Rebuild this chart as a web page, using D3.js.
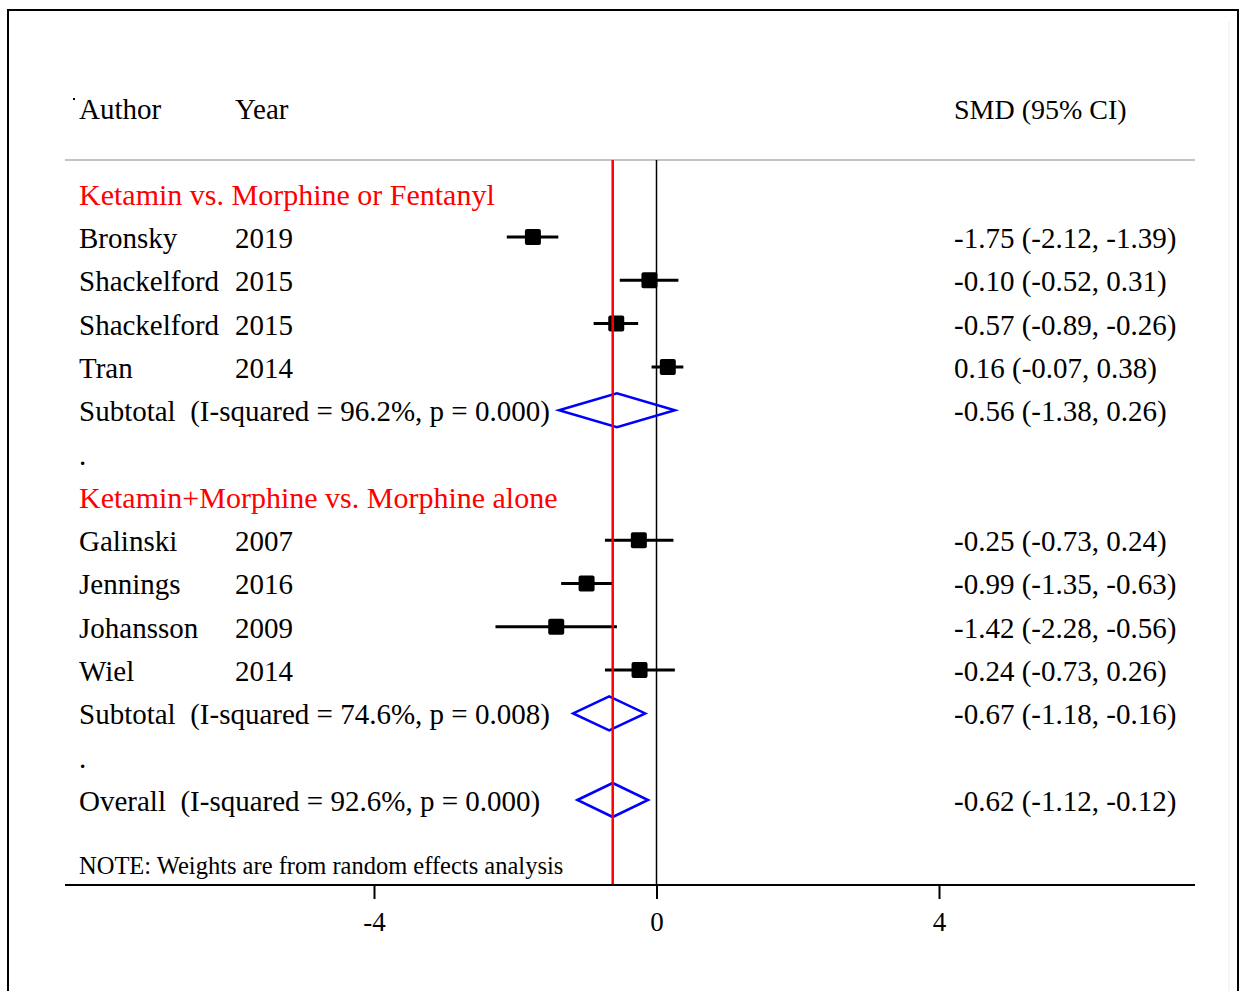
<!DOCTYPE html>
<html>
<head>
<meta charset="utf-8">
<script src="https://cdn.jsdelivr.net/npm/d3@7"></script>
<style>
  html, body { margin: 0; padding: 0; background: #fff; }
  svg text { font-family: "Liberation Serif", "DejaVu Serif", serif; white-space: pre; }
</style>
</head>
<body>
<svg id="chart" width="1240" height="991"></svg>
<script>
// ---- data ----
const groups = ["Ketamin vs. Morphine or Fentanyl", "Ketamin+Morphine vs. Morphine alone"];
const studyGroup = [0, 0, 0, 0, 1, 1, 1, 1];
const authors = ["Bronsky", "Shackelford", "Shackelford", "Tran", "Galinski", "Jennings", "Johansson", "Wiel"];
const years = ["2019", "2015", "2015", "2014", "2007", "2016", "2009", "2014"];
const smd = [-1.75, -0.10, -0.57, 0.16, -0.25, -0.99, -1.42, -0.24];
const lower = [-2.12, -0.52, -0.89, -0.07, -0.73, -1.35, -2.28, -0.73];
const upper = [-1.39, 0.31, -0.26, 0.38, 0.24, -0.63, -0.56, 0.26];
const ciText = ["-1.75 (-2.12, -1.39)", "-0.10 (-0.52, 0.31)", "-0.57 (-0.89, -0.26)", "0.16 (-0.07, 0.38)",
                "-0.25 (-0.73, 0.24)", "-0.99 (-1.35, -0.63)", "-1.42 (-2.28, -0.56)", "-0.24 (-0.73, 0.26)"];
const pooledLabels = ["Subtotal  (I-squared = 96.2%, p = 0.000)", "Subtotal  (I-squared = 74.6%, p = 0.008)", "Overall  (I-squared = 92.6%, p = 0.000)"];
const pooledEst = [-0.56, -0.67, -0.62];
const pooledLo = [-1.38, -1.18, -1.12];
const pooledHi = [0.26, -0.16, -0.12];
const pooledText = ["-0.56 (-1.38, 0.26)", "-0.67 (-1.18, -0.16)", "-0.62 (-1.12, -0.12)"];
const xTicks = [-4, 0, 4];
const headers = ["Author", "Year", "SMD (95% CI)"];
const note = "NOTE: Weights are from random effects analysis";

// ---- row layout (row index per line) ----
const rows = [];
let r = -1;
groups.forEach((g, gi) => {
  rows.push({type: "group", label: g, row: r++});
  authors.forEach((a, i) => {
    if (studyGroup[i] === gi) rows.push({type: "study", i, row: r++});
  });
  rows.push({type: "pooled", i: gi, row: r++});
  rows.push({type: "dot", row: r++});
});
rows.push({type: "pooled", i: 2, row: r++});

const svg = d3.select("#chart");
const x = d3.scaleLinear().domain([-4, 4]).range([374, 939]);
const y = d3.scaleLinear().domain([0, 13]).range([237, 800]);
const colAuthor = 79, colYear = 235, colCI = 954;
const fs = 29;

// outer frame
svg.append("rect").attr("x", 8).attr("y", 10).attr("width", 1230).attr("height", 1000)
  .attr("fill", "none").attr("stroke", "#000").attr("stroke-width", 2);
svg.append("line").attr("x1", 1229).attr("x2", 1229).attr("y1", 22).attr("y2", 991)
  .attr("stroke", "#ececec").attr("stroke-width", 1);

// headers
svg.append("rect").attr("x", 73).attr("y", 98).attr("width", 2).attr("height", 2).attr("fill", "#000");
[colAuthor, colYear, colCI].forEach((cx, k) => {
  svg.append("text").attr("x", cx).attr("y", 119).attr("font-size", k === 2 ? 28 : fs).attr("fill", "#000").text(headers[k]);
});
svg.append("line").attr("x1", 65).attr("x2", 1195).attr("y1", 160).attr("y2", 160)
  .attr("stroke", "#c4c4c4").attr("stroke-width", 2);

// vertical reference lines
svg.append("line").attr("x1", x(0)).attr("x2", x(0)).attr("y1", 160).attr("y2", 885)
  .attr("stroke", "#000").attr("stroke-width", 1.5);

// rows
const base = 11;
rows.forEach(d => {
  const yy = y(d.row);
  if (d.type === "group") {
    svg.append("text").attr("x", colAuthor).attr("y", yy + base).attr("font-size", 30).attr("fill", "#ff0000").text(d.label);
  } else if (d.type === "dot") {
    svg.append("text").attr("x", colAuthor).attr("y", yy + base).attr("font-size", fs).attr("fill", "#000").text(".");
  } else if (d.type === "study") {
    const i = d.i;
    svg.append("text").attr("x", colAuthor).attr("y", yy + base).attr("font-size", fs).text(authors[i]);
    svg.append("text").attr("x", colYear).attr("y", yy + base).attr("font-size", fs).text(years[i]);
    svg.append("text").attr("x", colCI).attr("y", yy + base).attr("font-size", fs).text(ciText[i]);
    svg.append("line").attr("x1", x(lower[i])).attr("x2", x(upper[i])).attr("y1", yy).attr("y2", yy)
      .attr("stroke", "#000").attr("stroke-width", 3);
    svg.append("rect").attr("x", x(smd[i]) - 8).attr("y", yy - 8).attr("width", 16).attr("height", 16)
      .attr("rx", 2).attr("fill", "#000");
  } else if (d.type === "pooled") {
    const i = d.i;
    svg.append("text").attr("x", colAuthor).attr("y", yy + base).attr("font-size", fs).text(pooledLabels[i]);
    svg.append("text").attr("x", colCI).attr("y", yy + base).attr("font-size", fs).text(pooledText[i]);
    const h = 17;
    const pts = [[x(pooledLo[i]), yy], [x(pooledEst[i]), yy - h], [x(pooledHi[i]), yy], [x(pooledEst[i]), yy + h]];
    svg.append("polygon").attr("points", pts.map(p => p.join(",")).join(" "))
      .attr("fill", "none").attr("stroke", "#0000ff").attr("stroke-width", 2.5);
  }
});

// overall effect red line
svg.append("line").attr("x1", x(pooledEst[2])).attr("x2", x(pooledEst[2])).attr("y1", 160).attr("y2", 885)
  .attr("stroke", "#ff0000").attr("stroke-width", 2.5);

// note
svg.append("text").attr("x", colAuthor).attr("y", 874).attr("font-size", 24.5).text(note);

// x axis
svg.append("line").attr("x1", 65).attr("x2", 1195).attr("y1", 885).attr("y2", 885)
  .attr("stroke", "#000").attr("stroke-width", 2);
const ax = svg.append("g").attr("transform", "translate(0,885)")
  .call(d3.axisBottom(x).tickValues(xTicks).tickSize(14).tickPadding(13).tickFormat(d3.format("d")));
ax.select(".domain").remove();
ax.selectAll(".tick line").attr("stroke", "#000").attr("stroke-width", 2);
ax.selectAll(".tick text").attr("font-size", 27).attr("fill", "#000")
  .style("font-family", "'Liberation Serif', serif").text(d => d < 0 ? "-" + Math.abs(d) : d);
</script>
</body>
</html>
